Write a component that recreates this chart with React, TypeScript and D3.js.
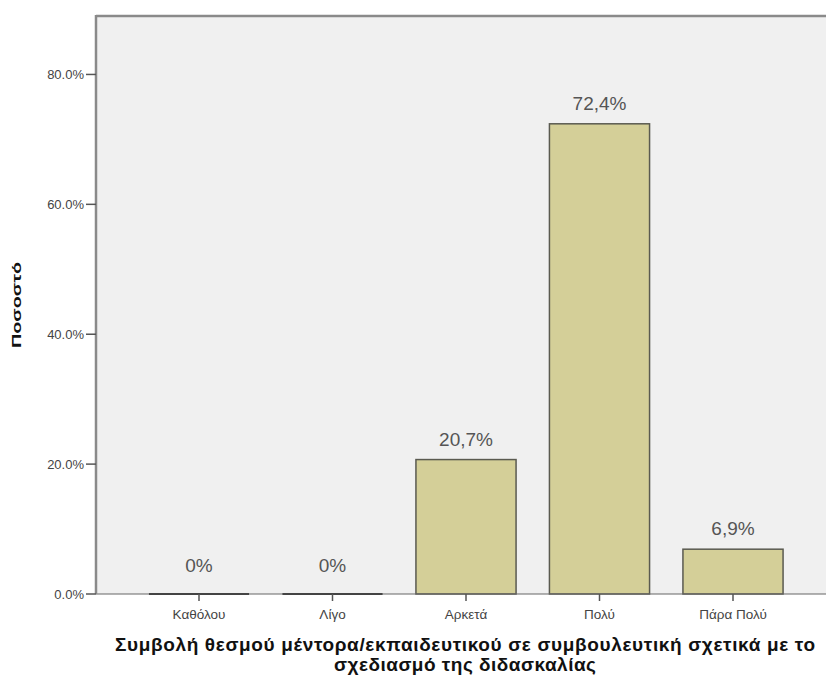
import React from "react";
import * as d3 from "d3";

const categories = ["Καθόλου", "Λίγο", "Αρκετά", "Πολύ", "Πάρα Πολύ"];
const values = [0, 0, 20.7, 72.4, 6.9];
const yTicks = [0, 20, 40, 60, 80];
const yTitle = "Ποσοστό";
const xTitleLines = [
  "Συμβολή θεσμού μέντορα/εκπαιδευτικού σε συμβουλευτική σχετικά με το",
  "σχεδιασμό της διδασκαλίας",
];
const xTitleWidths = [700, 262];

const W = 826;
const H = 675;
const left = 96;
const top = 16;
const bottom = 594;
const right = 826;

export default function App() {
  const y = d3.scaleLinear().domain([0, 89]).range([bottom, top]);
  const x = d3
    .scaleBand<string>()
    .domain(categories)
    .range([132.25, 799.75])
    .paddingInner(0.25)
    .paddingOuter(0.125);
  const bw = x.bandwidth();
  const fmtTick = (v: number) => d3.format(".1f")(v) + "%";
  const fmtVal = (v: number) =>
    v === 0 ? "0%" : v.toFixed(1).replace(".", ",") + "%";
  const font = "'Liberation Sans', Arial, sans-serif";

  return (
    <svg
      width={W}
      height={H}
      style={{ position: "absolute", left: 0, top: 0, background: "#fff" }}
      fontFamily={font}
    >
      <rect x={left} y={top} width={right - left} height={bottom - top} fill="#f0f0f0" />
      <line x1={left} x2={right} y1={top} y2={top} stroke="#8a8a8a" strokeWidth={2.5} />
      {categories.map((c, i) => {
        const v = values[i];
        const x0 = x(c)!;
        if (v === 0) {
          return (
            <line key={c} x1={x0} x2={x0 + bw} y1={y(0)} y2={y(0)} stroke="#222" strokeWidth={2} />
          );
        }
        return (
          <rect
            key={c}
            x={x0}
            y={y(v)}
            width={bw}
            height={y(0) - y(v)}
            fill="#d4cf98"
            stroke="#5a5a50"
            strokeWidth={1.5}
          />
        );
      })}
      <line x1={left} x2={right} y1={bottom} y2={bottom} stroke="#666" strokeWidth={1} />
      <line x1={left} x2={left} y1={top - 1} y2={bottom} stroke="#8a8a8a" strokeWidth={2.5} />
      {yTicks.map((t) => (
        <g key={t}>
          <line x1={left - 10} x2={left} y1={y(t)} y2={y(t)} stroke="#555" strokeWidth={1.5} />
          <text x={left - 12} y={y(t)} dy="0.35em" textAnchor="end" fontSize={13} fill="#444">
            {fmtTick(t)}
          </text>
        </g>
      ))}
      {categories.map((c) => {
        const cx = x(c)! + bw / 2;
        return (
          <g key={c}>
            <line x1={cx} x2={cx} y1={bottom} y2={bottom + 7} stroke="#555" strokeWidth={1.5} />
            <text x={cx} y={619} textAnchor="middle" fontSize={13.5} fill="#444">
              {c}
            </text>
          </g>
        );
      })}
      {categories.map((c, i) => {
        const v = values[i];
        const cx = x(c)! + bw / 2;
        return (
          <text
            key={c}
            x={cx}
            y={y(v) - (v === 0 ? 22 : 14)}
            textAnchor="middle"
            fontSize={19}
            fill="#555"
          >
            {fmtVal(v)}
          </text>
        );
      })}
      <text
        transform={`translate(21,305) rotate(-90)`}
        textAnchor="middle"
        fontSize={13.5}
        fontWeight="bold"
        fill="#111"
        textLength={86}
        lengthAdjust="spacingAndGlyphs"
      >
        {yTitle}
      </text>
      {xTitleLines.map((l, i) => (
        <text
          key={i}
          x={465}
          y={651 + i * 20}
          textAnchor="middle"
          fontSize={19}
          fontWeight="bold"
          fill="#111"
          textLength={xTitleWidths[i]}
          lengthAdjust="spacing"
        >
          {l}
        </text>
      ))}
    </svg>
  );
}
